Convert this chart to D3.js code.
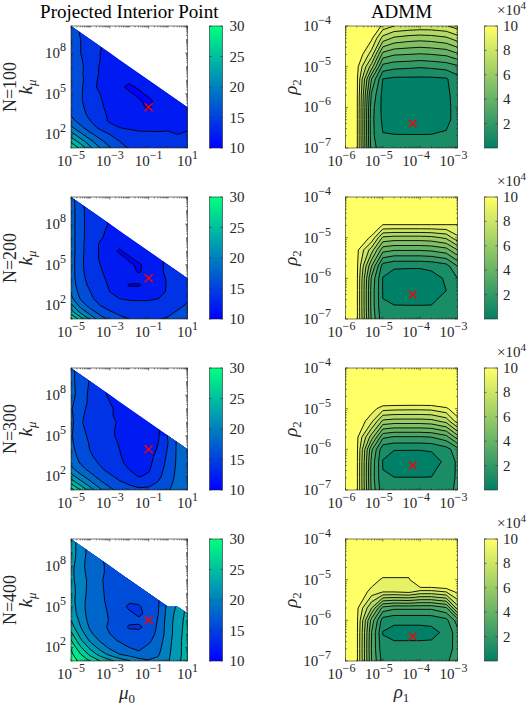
<!DOCTYPE html>
<html>
<head>
<meta charset="utf-8">
<script src="https://cdn.jsdelivr.net/npm/d3@7"></script>
<style>
  body { margin: 0; background: #fff; }
  svg text { font-family: "Liberation Serif", serif; fill: #262626; }
</style>
</head>
<body>
<svg id="fig" width="530" height="707"></svg>
<script>
// ---- data -------------------------------------------------------------
const rowNames = ['N=100', 'N=200', 'N=300', 'N=400']

// projected interior point: grid exponents (log10 mu0, log10 k_mu)
const muExp = [-5, -4.5, -4, -3.5, -3, -2.5, -2, -1.5, -1, -0.5, 0, 0.5, 1]
const kExp = [1, 1.5, 2, 2.5, 3, 3.5, 4, 4.5, 5, 5.5, 6, 6.5, 7, 7.5, 8, 8.5, 9, 9.5, 10]

// iterations, rows from k = 1e10 (top) down to k = 1e1; missing cells = no result
const ipN100 = [
  [17.0],
  [17.0, 15.8],
  [17.0, 16.0, 15.0],
  [17.0, 16.0, 15.0, 14.2],
  [17.0, 16.0, 15.0, 14.0, 13.2],
  [17.0, 16.2, 15.0, 14.0, 13.0, 12.8],
  [17.0, 16.3, 15.2, 13.8, 13.0, 12.8, 12.6],
  [17.0, 16.3, 15.0, 13.8, 13.0, 12.6, 12.5, 12.5],
  [17.0, 16.4, 15.0, 13.6, 12.8, 12.5, 12.3, 12.3, 12.6],
  [17.0, 16.3, 14.8, 13.5, 12.8, 12.3, 11.7, 12.2, 12.5, 12.8],
  [17.2, 16.2, 15.0, 14.0, 13.0, 12.5, 12.2, 11.7, 12.3, 12.6, 12.9],
  [17.4, 16.2, 15.0, 14.2, 13.2, 12.6, 12.4, 12.1, 11.7, 12.5, 12.8, 13.0],
  [17.6, 16.4, 15.2, 14.3, 13.5, 12.8, 12.6, 12.4, 11.8, 12.6, 12.8, 13.0, 13.2],
  [17.8, 16.6, 15.5, 14.5, 13.7, 13.2, 12.8, 12.6, 12.5, 12.7, 12.9, 13.2, 13.4],
  [18.6, 17.2, 16.0, 14.6, 13.8, 13.5, 13.2, 13.0, 12.9, 13.0, 13.2, 13.4, 13.5],
  [20.5, 18.5, 16.8, 15.6, 14.5, 14.0, 13.8, 13.6, 13.5, 13.6, 13.8, 13.8, 13.9],
  [23.0, 20.5, 18.5, 17.0, 16.0, 15.2, 14.6, 14.4, 14.4, 14.3, 14.2, 14.0, 14.1],
  [25.5, 23.0, 20.5, 18.5, 17.0, 16.0, 15.3, 15.0, 14.8, 14.6, 14.4, 14.3, 14.3],
  [28.0, 25.5, 22.5, 20.0, 18.2, 16.8, 15.8, 15.3, 15.1, 14.9, 14.7, 14.6, 14.5]
]
const ipN200 = [
  [19.0],
  [19.0, 16.4],
  [19.0, 16.5, 15.2],
  [19.0, 16.5, 15.2, 14.6],
  [19.0, 16.5, 15.2, 14.4, 13.9],
  [19.0, 16.5, 15.2, 14.2, 13.8, 13.4],
  [19.0, 16.5, 15.2, 14.2, 13.5, 13.3, 13.2],
  [19.0, 16.5, 15.0, 13.8, 12.8, 12.6, 13.2, 13.3],
  [19.0, 16.5, 15.0, 13.8, 13.0, 11.7, 12.8, 13.2, 13.4],
  [19.0, 16.4, 15.0, 13.8, 13.0, 12.5, 11.7, 12.8, 13.4, 13.6],
  [19.0, 16.4, 15.0, 14.0, 13.2, 12.8, 12.3, 11.7, 12.8, 13.6, 14.4],
  [19.0, 16.4, 15.2, 14.2, 13.4, 13.0, 12.6, 11.8, 12.8, 13.4, 14.6, 15.2],
  [19.0, 16.5, 15.4, 14.4, 13.6, 13.1, 12.9, 12.8, 12.6, 13.2, 14.3, 15.2, 15.8],
  [19.2, 16.8, 15.6, 14.6, 13.8, 13.0, 11.8, 11.8, 12.8, 13.2, 14.2, 15.0, 15.6],
  [19.6, 17.2, 16.0, 14.8, 14.0, 13.4, 13.0, 13.0, 13.2, 13.5, 14.2, 15.0, 15.6],
  [20.6, 17.8, 16.4, 15.2, 14.5, 14.0, 13.8, 13.8, 13.8, 14.0, 14.5, 15.2, 15.8],
  [22.6, 19.2, 17.2, 16.0, 15.3, 14.8, 14.6, 14.5, 14.5, 14.6, 15.0, 15.6, 16.2],
  [25.0, 21.5, 19.0, 17.2, 16.2, 15.6, 15.3, 15.2, 15.2, 15.3, 15.6, 16.2, 16.8],
  [28.5, 25.0, 21.5, 19.0, 17.5, 16.5, 16.0, 15.8, 15.8, 15.9, 16.2, 16.6, 17.2]
]
const ipN300 = [
  [18.6],
  [18.6, 17.0],
  [18.6, 17.0, 15.8],
  [18.6, 17.2, 15.6, 14.6],
  [18.6, 17.2, 15.4, 14.4, 13.8],
  [18.4, 17.0, 15.5, 14.6, 14.0, 13.6],
  [18.2, 16.6, 15.4, 14.8, 14.2, 13.6, 13.4],
  [18.4, 16.4, 15.2, 14.8, 14.2, 13.6, 13.3, 13.3],
  [18.6, 16.2, 15.2, 14.8, 14.4, 13.8, 13.3, 13.2, 13.4],
  [18.4, 16.4, 15.4, 14.8, 14.3, 13.7, 13.2, 13.0, 13.2, 13.8],
  [18.2, 16.6, 15.6, 14.8, 14.2, 13.8, 13.2, 13.0, 13.1, 13.8, 16.2],
  [18.4, 16.8, 15.8, 15.0, 14.4, 13.9, 13.3, 13.0, 13.1, 14.0, 16.0, 18.4],
  [18.6, 17.0, 15.9, 15.2, 14.6, 14.0, 13.4, 13.0, 13.2, 14.2, 16.2, 18.4, 19.4],
  [18.8, 17.4, 16.2, 15.4, 14.8, 14.1, 13.5, 13.1, 13.4, 14.6, 16.4, 18.4, 19.4],
  [19.4, 17.8, 16.6, 15.8, 15.0, 14.3, 13.6, 13.3, 13.6, 14.8, 16.6, 18.4, 19.4],
  [20.8, 18.8, 17.4, 16.3, 15.5, 14.8, 14.0, 13.6, 13.8, 15.2, 16.8, 18.5, 19.5],
  [23.0, 20.6, 18.8, 17.2, 16.3, 15.5, 14.8, 13.9, 14.3, 15.6, 17.0, 18.6, 19.6],
  [25.8, 23.0, 20.6, 18.6, 17.2, 16.3, 15.8, 15.2, 15.5, 16.2, 17.4, 18.7, 19.7],
  [29.0, 26.0, 23.0, 20.4, 18.6, 17.2, 16.6, 16.4, 16.4, 16.8, 17.8, 18.9, 19.8]
]
const ipN400 = [
  [22.8],
  [22.8, 21.2],
  [22.8, 21.2, 19.0],
  [22.8, 21.0, 18.8, 18.2],
  [22.6, 20.8, 18.8, 18.3, 17.6],
  [22.4, 21.0, 18.9, 18.3, 17.6, 17.2],
  [22.4, 21.2, 19.2, 18.2, 17.5, 17.0, 16.8],
  [22.6, 21.2, 19.2, 18.3, 17.4, 16.9, 16.6, 16.6],
  [22.8, 21.0, 19.2, 18.4, 17.4, 16.9, 16.6, 16.4, 16.8],
  [22.8, 20.8, 19.1, 18.5, 17.4, 16.9, 16.4, 16.2, 16.6, 17.8],
  [23.0, 20.8, 19.0, 18.6, 17.6, 16.9, 15.6, 15.9, 16.4, 17.9, 20.6, 22.4],
  [23.2, 21.0, 19.0, 18.6, 17.8, 17.0, 16.4, 15.6, 16.6, 18.0, 20.8, 22.8, 24.6],
  [24.0, 21.4, 19.2, 18.6, 17.9, 17.0, 16.4, 16.4, 16.6, 18.2, 21.0, 23.0, 24.8],
  [25.0, 22.0, 19.6, 18.4, 17.8, 16.8, 15.8, 15.7, 16.6, 18.4, 21.0, 23.2, 24.8],
  [26.6, 23.0, 20.4, 18.8, 18.0, 17.0, 16.6, 16.6, 17.0, 18.6, 21.0, 23.2, 25.0],
  [28.2, 24.4, 21.6, 19.8, 18.6, 17.8, 17.2, 17.0, 17.6, 19.0, 21.2, 23.4, 25.0],
  [29.8, 26.2, 23.4, 21.2, 19.6, 18.8, 18.0, 17.6, 18.4, 19.4, 21.4, 23.4, 25.0],
  [30.5, 28.0, 25.4, 23.2, 21.4, 20.0, 19.2, 18.4, 19.0, 19.8, 21.6, 23.4, 25.0],
  [31.0, 29.5, 27.8, 26.0, 24.6, 23.2, 22.2, 21.0, 20.2, 20.4, 21.8, 23.6, 25.0]
]
const ipGrids = [ipN100, ipN200, ipN300, ipN400]
const ipLevels = [10, 12, 14, 16, 18, 20, 22, 24, 26, 28, 30]
const ipBestMu = [0.1, 0.1, 0.1, 0.1]
const ipBestK = [1e4, 1e4, 1e4, 1e4]

// ADMM: grid of rho1, rho2
const rho1 = [1e-6, 2e-6, 5e-6, 1e-5, 2e-5, 5e-5, 1e-4, 2e-4, 5e-4, 1e-3]
const rho2 = [1e-7, 2e-7, 5e-7, 1e-6, 2e-6, 5e-6, 1e-5, 2e-5, 5e-5, 1e-4]

// iterations in units of 1e4, rows from rho2 = 1e-4 (top) down to 1e-7
const admmN100 = [
  [15, 14, 12, 9.6, 9.0, 8.8, 8.7, 8.7, 8.9, 9.5],
  [15, 13, 10.2, 7.6, 6.8, 6.5, 6.4, 6.5, 6.8, 7.5],
  [15, 11, 8.5, 4.6, 4.1, 4.0, 3.9, 4.0, 4.2, 4.8],
  [15, 10.4, 6.5, 2.6, 2.3, 2.2, 2.1, 2.2, 2.4, 2.8],
  [15, 10.3, 4.0, 1.0, 0.8, 0.8, 0.8, 0.8, 0.9, 1.6],
  [15, 10.3, 2.8, 0.7, 0.5, 0.5, 0.5, 0.5, 0.8, 1.4],
  [15, 10.3, 2.4, 0.7, 0.5, 0.4, 0.4, 0.5, 0.8, 1.3],
  [15, 10.3, 2.3, 0.8, 0.5, 0.4, 0.4, 0.5, 0.8, 1.3],
  [15, 10.3, 2.3, 1.05, 1.05, 1.05, 1.05, 1.05, 1.1, 1.5],
  [15, 10.3, 2.5, 1.3, 1.2, 1.2, 1.2, 1.2, 1.3, 1.8]
]
const admmN200 = [
  [15, 15, 15, 15, 15, 15, 15, 15, 15, 15],
  [15, 15, 14, 12, 12, 12, 12, 12, 12, 12],
  [15, 13, 11, 9.9, 9.9, 9.9, 9.9, 9.9, 9.9, 9.9],
  [15, 11, 9.8, 6.8, 6.6, 6.6, 6.6, 6.7, 7.2, 8.8],
  [15, 10.3, 7.5, 4.4, 4.1, 4.1, 4.1, 4.2, 4.6, 6.0],
  [15, 10.3, 5.0, 1.5, 1.1, 1.1, 1.1, 1.2, 1.6, 3.0],
  [15, 10.3, 3.8, 0.95, 0.7, 0.6, 0.6, 0.7, 1.1, 2.0],
  [15, 10.3, 3.6, 0.95, 0.6, 0.5, 0.5, 0.6, 1.0, 1.7],
  [15, 10.3, 3.6, 1.05, 1.05, 1.05, 1.05, 1.05, 1.1, 1.6],
  [15, 10.3, 3.8, 1.3, 1.3, 1.3, 1.3, 1.3, 1.4, 1.8]
]
const admmN300 = [
  [15, 15, 15, 15, 15, 15, 15, 15, 15, 15],
  [15, 15, 15, 14, 14, 14, 14, 14, 14, 15],
  [15, 15, 13, 12, 12, 12, 12, 12, 12, 13],
  [15, 12, 10.5, 9.4, 9.3, 9.25, 9.25, 9.3, 9.8, 10.8],
  [15, 11, 9.3, 6.8, 6.6, 6.6, 6.6, 6.7, 7.4, 9.6],
  [15, 10.3, 6.5, 3.2, 2.9, 2.9, 2.9, 3.0, 3.6, 5.5],
  [15, 10.3, 4.2, 1.3, 1.05, 1.05, 1.05, 1.1, 1.6, 2.6],
  [15, 10.3, 3.7, 0.95, 0.5, 0.45, 0.45, 0.6, 1.2, 2.2],
  [15, 10.3, 3.6, 1.05, 1.02, 1.02, 1.02, 1.02, 1.3, 2.2],
  [15, 10.3, 3.8, 1.3, 1.3, 1.3, 1.3, 1.3, 1.5, 2.3]
]
const admmN400 = [
  [15, 15, 15, 15, 15, 15, 15, 15, 15, 15],
  [15, 15, 15, 13, 13, 13, 14, 14, 14, 15],
  [15, 15, 12, 11, 11, 11, 13, 13, 13, 14],
  [15, 12, 10.6, 9.8, 9.8, 9.8, 12.4, 12.4, 12.6, 13],
  [15, 11, 9.6, 9.0, 9.0, 9.2, 8.6, 8.6, 9.0, 10.3],
  [15, 10.3, 7.0, 3.6, 3.2, 3.2, 3.2, 3.2, 3.8, 7.5],
  [15, 10.3, 4.6, 1.5, 1.2, 1.2, 1.2, 1.25, 1.7, 3.5],
  [15, 10.3, 4.0, 0.95, 0.7, 0.7, 0.7, 0.75, 1.2, 2.6],
  [15, 10.3, 3.9, 1.3, 1.3, 1.3, 1.3, 1.3, 1.5, 2.4],
  [15, 10.3, 4.0, 1.6, 1.6, 1.6, 1.6, 1.6, 1.8, 2.6]
]
const admmGrids = [admmN100, admmN200, admmN300, admmN400]
const admmLevels = [0, 1, 2, 3, 4, 5, 6, 7, 8, 9, 10]
const admmBestRho1 = [6.3e-5, 6.3e-5, 6.3e-5, 6.3e-5]
const admmBestRho2 = [4e-7, 4e-7, 4e-7, 4e-7]

const ipTicksX = [1e-5, 1e-3, 1e-1, 1e1]
const ipTicksY = [1e2, 1e5, 1e8]
const admmTicksX = [1e-6, 1e-5, 1e-4, 1e-3]
const admmTicksY = [1e-7, 1e-6, 1e-5, 1e-4]
const ipCbTicks = [10, 15, 20, 25, 30]
const admmCbTicks = [2, 4, 6, 8, 10]

// ---- layout -----------------------------------------------------------
const rowTops = [26, 197, 368, 539]
const plotH = 122
const ipX = [71, 187.5]
const admmX = [345.5, 457.5]
const ipCbX = [209.5, 222.5]
const admmCbX = [484.5, 497.5]
const axisColor = '#262626'

let svg = d3.select('#fig')
let defs = svg.append('defs')

function winter (t) { t = Math.max(0, Math.min(1, t)); return d3.rgb(0, 255 * t, 255 * (1 - 0.5 * t)) }
function summer (t) { t = Math.max(0, Math.min(1, t)); return d3.rgb(255 * t, 255 * (0.5 + 0.5 * t), 102) }

function gradient (id, cmap) {
  let lg = defs.append('linearGradient').attr('id', id)
    .attr('x1', 0).attr('y1', 1).attr('x2', 0).attr('y2', 0)
  d3.range(0, 1.001, 0.1).forEach(function (t) {
    lg.append('stop').attr('offset', t).attr('stop-color', cmap(t))
  })
}
gradient('gWinter', winter)
gradient('gSummer', summer)

// position along a grid (fractional index) -> log10 coordinate
function logAt (arr, f) {
  let i = Math.max(0, Math.min(arr.length - 2, Math.floor(f)))
  return arr[i] + (arr[i + 1] - arr[i]) * (f - i)
}

function toPath (mp, px, py) {
  let s = ''
  mp.coordinates.forEach(function (poly) {
    poly.forEach(function (ring) {
      s += 'M' + ring.map(function (p) { return px(p[0]).toFixed(2) + ',' + py(p[1]).toFixed(2) }).join('L') + 'Z'
    })
  })
  return s
}

function drawContours (g, id, grid, xLog, yLog, x, y, levels, color) {
  let nx = xLog.length
  let ny = yLog.length
  let rows = grid.slice().reverse()
  let cell = function (i, j) { let v = rows[j][i]; return v == null ? NaN : v }
  let fillVals = []
  let lineVals = []
  for (let j = 0; j < ny; j++) {
    for (let i = 0; i < nx; i++) {
      let v = cell(i, j)
      fillVals.push(isNaN(v) ? -1e6 : v)
      // for tracing lines only, masked cells repeat the cell below (hidden by the clip)
      let jj = j
      while (jj > 0 && isNaN(cell(i, jj))) jj--
      lineVals.push(cell(i, jj))
    }
  }
  let px = function (c) { return x(Math.pow(10, logAt(xLog, c - 0.5))) }
  let py = function (c) { return y(Math.pow(10, logAt(yLog, c - 0.5))) }
  let fills = d3.contours().size([nx, ny]).thresholds(levels)(fillVals)
  let lines = d3.contours().size([nx, ny]).thresholds(levels.slice(1))(lineVals)

  defs.append('clipPath').attr('id', 'valid-' + id)
    .append('path').attr('d', toPath(fills[0], px, py))

  g.selectAll('path.band')
    .data(fills)
    .enter().append('path')
    .attr('class', 'band')
    .attr('d', function (d) { return toPath(d, px, py) })
    .attr('fill', function (d) { return color(d.value) })
    .attr('fill-rule', 'evenodd')

  g.append('g').attr('clip-path', 'url(#valid-' + id + ')')
    .selectAll('path')
    .data(lines)
    .enter().append('path')
    .attr('d', function (d) { return toPath(d, px, py) })
    .attr('fill', 'none')
    .attr('stroke', '#000')
    .attr('stroke-width', 0.9)
}

function logMinor (domain) {
  let out = []
  for (let e = Math.floor(Math.log10(domain[0])); e <= Math.ceil(Math.log10(domain[1])); e++) {
    for (let m = 1; m <= 9; m++) {
      let v = m * Math.pow(10, e)
      if (v >= domain[0] * 0.999 && v <= domain[1] * 1.001) out.push(v)
    }
  }
  return out
}

function powLabel (t, v) {
  let e = Math.round(Math.log10(v))
  t.text('10')
  t.append('tspan').attr('dy', -7).attr('font-size', 12).text(e < 0 ? '\u2212' + (-e) : String(e))
}

function drawAxes (g, x, y, ticksX, ticksY, labelShiftX, labelRightY) {
  let x0 = x.range()[0], x1 = x.range()[1]
  let yb = y.range()[0], yt = y.range()[1]
  let ticks = g.append('g').attr('stroke', axisColor).attr('stroke-width', 0.6)
  logMinor(x.domain()).forEach(function (v) {
    let len = ticksX.indexOf(v) >= 0 ? 2.5 : 1.4
    let px = x(v)
    ticks.append('line').attr('x1', px).attr('x2', px).attr('y1', yb).attr('y2', yb - len)
    ticks.append('line').attr('x1', px).attr('x2', px).attr('y1', yt).attr('y2', yt + len)
  })
  logMinor(y.domain()).forEach(function (v) {
    let len = ticksY.indexOf(v) >= 0 ? 2.5 : 1.4
    let py = y(v)
    ticks.append('line').attr('x1', x0).attr('x2', x0 + len).attr('y1', py).attr('y2', py)
    ticks.append('line').attr('x1', x1).attr('x2', x1 - len).attr('y1', py).attr('y2', py)
  })
  g.append('rect').attr('x', x0).attr('y', yt).attr('width', x1 - x0).attr('height', yb - yt)
    .attr('fill', 'none').attr('stroke', axisColor).attr('stroke-width', 0.6)

  ticksX.forEach(function (v) {
    let t = g.append('text').attr('x', x(v) + labelShiftX).attr('y', yb + 18)
      .attr('text-anchor', 'middle').attr('font-size', 15)
    powLabel(t, v)
  })
  ticksY.forEach(function (v) {
    let t = g.append('text').attr('x', labelRightY).attr('y', y(v) + 5)
      .attr('text-anchor', 'end').attr('font-size', 15)
    powLabel(t, v)
  })
}

function drawColorbar (g, xr, top, bottom, domain, ticks, grad, labelX) {
  let s = d3.scaleLinear().domain(domain).range([bottom, top])
  g.append('rect').attr('x', xr[0]).attr('y', top).attr('width', xr[1] - xr[0]).attr('height', bottom - top)
    .attr('fill', 'url(#' + grad + ')').attr('stroke', axisColor).attr('stroke-width', 0.6)
  ticks.forEach(function (v) {
    g.append('line').attr('x1', xr[0]).attr('x2', xr[0] + 2).attr('y1', s(v)).attr('y2', s(v))
      .attr('stroke', axisColor).attr('stroke-width', 0.6)
    g.append('line').attr('x1', xr[1]).attr('x2', xr[1] - 2).attr('y1', s(v)).attr('y2', s(v))
      .attr('stroke', axisColor).attr('stroke-width', 0.6)
    g.append('text').attr('x', labelX).attr('y', s(v) + 5).attr('font-size', 15).text(v)
  })
}

function drawCross (g, cx, cy) {
  g.append('path')
    .attr('d', 'M' + (cx - 4) + ',' + (cy - 4) + 'L' + (cx + 4) + ',' + (cy + 4) +
      'M' + (cx - 4) + ',' + (cy + 4) + 'L' + (cx + 4) + ',' + (cy - 4))
    .attr('stroke', '#ff0000').attr('stroke-width', 1.5).attr('fill', 'none')
}

// ---- panels -----------------------------------------------------------
rowTops.forEach(function (top, r) {
  let bottom = top + plotH
  let cy = top + plotH / 2

  // projected interior point
  let xIp = d3.scaleLog().domain([1e-5, 1e1]).range(ipX)
  let yIp = d3.scaleLog().domain([1e1, 1e10]).range([bottom, top])
  defs.append('clipPath').attr('id', 'ax-ip-' + r)
    .append('rect').attr('x', ipX[0]).attr('y', top).attr('width', ipX[1] - ipX[0]).attr('height', plotH)
  let gIp = svg.append('g').attr('clip-path', 'url(#ax-ip-' + r + ')')
  drawContours(gIp, 'ip' + r, ipGrids[r], muExp, kExp, xIp, yIp, ipLevels,
    function (t) { return winter((t - 10) / 20) })
  drawCross(gIp, xIp(ipBestMu[r]), yIp(ipBestK[r]))
  drawAxes(svg.append('g'), xIp, yIp, ipTicksX, ipTicksY, 0, 66)
  drawColorbar(svg.append('g'), ipCbX, top, bottom, [10, 30], ipCbTicks, 'gWinter', 229.5)

  // ADMM
  let xA = d3.scaleLog().domain([1e-6, 1e-3]).range(admmX)
  let yA = d3.scaleLog().domain([1e-7, 1e-4]).range([bottom, top])
  defs.append('clipPath').attr('id', 'ax-admm-' + r)
    .append('rect').attr('x', admmX[0]).attr('y', top).attr('width', admmX[1] - admmX[0]).attr('height', plotH)
  let gA = svg.append('g').attr('clip-path', 'url(#ax-admm-' + r + ')')
  drawContours(gA, 'admm' + r, admmGrids[r], rho1.map(Math.log10), rho2.map(Math.log10), xA, yA, admmLevels,
    function (t) { return summer(t / 10) })
  drawCross(gA, xA(admmBestRho1[r]), yA(admmBestRho2[r]))
  drawAxes(svg.append('g'), xA, yA, admmTicksX, admmTicksY, -4, 331)
  drawColorbar(svg.append('g'), admmCbX, top, bottom, [0, 10], admmCbTicks, 'gSummer', 503)

  let mult = svg.append('text').attr('x', 497).attr('y', top - 11).attr('font-size', 15).text('\u00d710')
  mult.append('tspan').attr('dy', -6).attr('font-size', 11).text('4')

  // row labels
  svg.append('text').attr('transform', 'translate(16,' + cy + ') rotate(-90)')
    .attr('text-anchor', 'middle').attr('font-size', 18).text(rowNames[r])
  let kl = svg.append('text').attr('transform', 'translate(32,' + cy + ') rotate(-90)')
    .attr('text-anchor', 'middle').attr('font-size', 19).attr('font-style', 'italic').text('k')
  kl.append('tspan').attr('dy', 4).attr('font-size', 13).text('\u03bc')
  let rl = svg.append('text').attr('transform', 'translate(297,' + cy + ') rotate(-90)')
    .attr('text-anchor', 'middle').attr('font-size', 19).attr('font-style', 'italic').text('\u03c1')
  rl.append('tspan').attr('dy', 4).attr('font-size', 13).attr('font-style', 'normal').text('2')
})

// titles and bottom axis labels
svg.append('text').attr('x', (ipX[0] + ipX[1]) / 2).attr('y', 17.5).attr('text-anchor', 'middle')
  .attr('font-size', 19).style('fill', '#000').text('Projected Interior Point')
svg.append('text').attr('x', (admmX[0] + admmX[1]) / 2).attr('y', 17.5).attr('text-anchor', 'middle')
  .attr('font-size', 19).style('fill', '#000').text('ADMM')

let ml = svg.append('text').attr('x', 127).attr('y', 699).attr('text-anchor', 'middle')
  .attr('font-size', 19).attr('font-style', 'italic').text('\u03bc')
ml.append('tspan').attr('dy', 4).attr('font-size', 13).attr('font-style', 'normal').text('0')
let pl = svg.append('text').attr('x', 401.5).attr('y', 698).attr('text-anchor', 'middle')
  .attr('font-size', 19).attr('font-style', 'italic').text('\u03c1')
pl.append('tspan').attr('dy', 4).attr('font-size', 13).attr('font-style', 'normal').text('1')
</script>
</body>
</html>
